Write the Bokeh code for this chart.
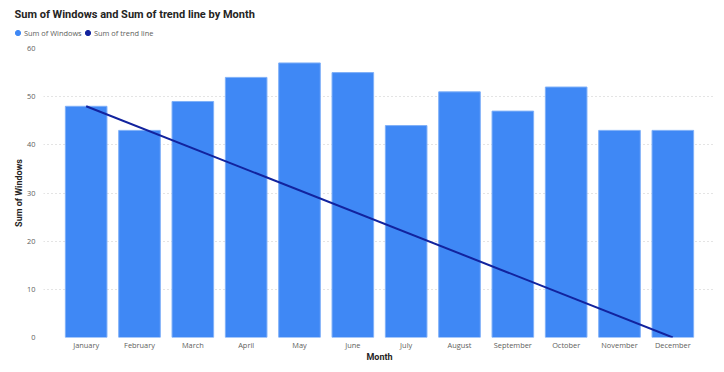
from bokeh.plotting import figure
from bokeh.models import (ColumnDataSource, Legend, LegendItem, FactorRange,
                          SingleIntervalTicker, Label, Range1d)
from bokeh.layouts import column
from bokeh.embed import file_html
from bokeh.resources import INLINE

months = ["January", "February", "March", "April", "May", "June", "July",
          "August", "September", "October", "November", "December"]
windows = [48, 43, 49, 54, 57, 55, 44, 51, 47, 52, 43, 43]
trend_months = ["January", "December"]
trend_values = [48, 0]
title_text = "Sum of Windows and Sum of trend line by Month"
series_names = ["Sum of Windows", "Sum of trend line"]

BAR = "#3F88F5"
LINE = "#12239E"
SMALL = "7.4px"

# ---- header: title + legend ----
h = figure(width=720, height=42, output_backend="svg", toolbar_location=None,
           x_range=Range1d(0, 720), y_range=Range1d(0, 42),
           x_axis_type=None, y_axis_type=None,
           min_border=0, outline_line_color=None)
if "frame_align" in h.properties():
    h.frame_align = False
h.grid.visible = False
h.add_layout(Label(x=14, y=28, x_units="screen", y_units="screen", text=title_text,
                   text_font="Roboto", text_font_size="11px", text_font_style="bold",
                   text_color="#252423", text_baseline="middle", text_align="left"))
g1 = h.scatter(x=[-100], y=[-100], marker="circle", size=7, fill_color=BAR, line_color=BAR)
g2 = h.scatter(x=[-100], y=[-100], marker="circle", size=7, fill_color=LINE, line_color=LINE)

def make_legend(name, rend, xloc):
    return Legend(items=[LegendItem(label=name, renderers=[rend])],
                  orientation="horizontal", location=(xloc, 3),
                  label_text_font="Open Sans", label_text_font_size=SMALL,
                  label_text_color="#605E5C",
                  glyph_width=13, glyph_height=13, label_standoff=-3, spacing=0,
                  padding=0, margin=0, border_line_color=None, background_fill_alpha=0,
                  label_height=13, label_width=10)

h.add_layout(make_legend(series_names[0], g1, 11), "center")
h.add_layout(make_legend(series_names[1], g2, 81), "center")

# ---- main chart ----
p = figure(frame_width=672, frame_height=289, output_backend="svg", toolbar_location=None,
           x_range=FactorRange(*months, range_padding=0.3, range_padding_units="absolute"),
           y_range=(0, 60),
           min_border_left=43, min_border_right=5, min_border_top=6, min_border_bottom=30)
if "frame_align" in p.properties():
    p.frame_align = False

src = ColumnDataSource(dict(m=months, v=windows))
p.vbar(x="m", top="v", width=0.78, source=src, fill_color=BAR, line_color="#7FB0F8", line_width=1)
tsrc = ColumnDataSource(dict(m=trend_months, v=trend_values))
p.line(x="m", y="v", source=tsrc, line_color=LINE, line_width=2)

p.outline_line_color = None
p.xgrid.grid_line_color = None
p.ygrid.grid_line_color = "#C8C8C8"
p.ygrid.grid_line_dash = "1 3"
p.yaxis.ticker = SingleIntervalTicker(interval=10)

for ax in (p.xaxis[0], p.yaxis[0]):
    ax.axis_line_color = None
    ax.major_tick_line_color = None
    ax.minor_tick_line_color = None
    ax.major_tick_out = 0
    ax.major_tick_in = 0
    ax.major_label_text_font = "Open Sans"
    ax.major_label_text_font_size = SMALL
    ax.major_label_text_color = "#605E5C"
    ax.axis_label_text_font = "Roboto"
    ax.axis_label_text_font_size = "9px"
    ax.axis_label_text_font_style = "bold"
    ax.axis_label_text_color = "#252423"

p.xaxis.axis_label = "Month"
p.yaxis.axis_label = "Sum of Windows"
p.xaxis.major_label_standoff = 2
p.xaxis.axis_label_standoff = -1
p.yaxis.major_label_standoff = 4
p.yaxis.axis_label_standoff = 0

layout = column(h, p, spacing=0)
open("out.html", "w").write(file_html(layout, INLINE))
